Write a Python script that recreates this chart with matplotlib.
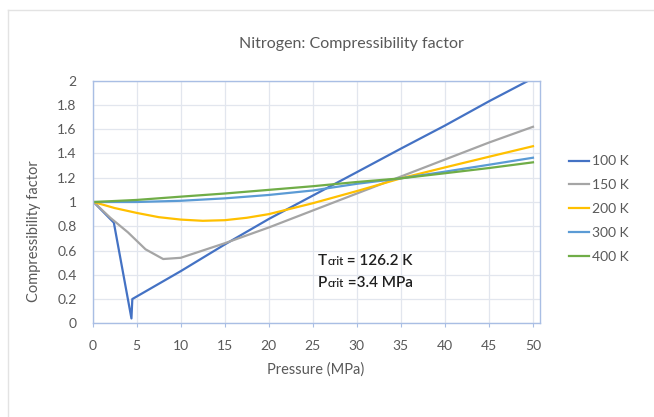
import matplotlib
matplotlib.use("Agg")
import matplotlib.pyplot as plt
from matplotlib.offsetbox import TextArea, HPacker, VPacker, AnchoredOffsetbox
from matplotlib.lines import Line2D

plt.rcParams['font.family'] = ['Lato', 'DejaVu Sans']

# ---- data ----
p_100 = [0.1, 2.4, 4.4, 4.5, 10, 15, 20, 25, 30, 35, 40, 45, 50]
z_100 = [1.0, 0.83, 0.04, 0.2, 0.43, 0.65, 0.86, 1.053, 1.246, 1.44, 1.63, 1.83, 2.02]

p_150 = [0.1, 2, 4, 6, 8, 10, 15, 20, 25, 30, 35, 40, 45, 50]
z_150 = [1.0, 0.87, 0.75, 0.61, 0.53, 0.54, 0.66, 0.79, 0.93, 1.07, 1.21, 1.35, 1.49, 1.62]

p_200 = [0.1, 2.5, 5, 7.5, 10, 12.5, 15, 17.5, 20, 25, 30, 35, 40, 45, 50]
z_200 = [1.0, 0.95, 0.91, 0.875, 0.855, 0.845, 0.85, 0.87, 0.90, 0.99, 1.09, 1.195, 1.285, 1.373, 1.46]

p_300 = [0.1, 5, 10, 15, 20, 25, 30, 35, 40, 45, 50]
z_300 = [1.0, 1.0, 1.01, 1.03, 1.058, 1.095, 1.15, 1.195, 1.25, 1.307, 1.365]

p_400 = [0.1, 5, 10, 15, 20, 25, 30, 35, 40, 45, 50]
z_400 = [1.0, 1.017, 1.044, 1.07, 1.10, 1.13, 1.165, 1.195, 1.237, 1.28, 1.327]

series_labels = ["100 K", "150 K", "200 K", "300 K", "400 K"]
series_colors = ["#4472C4", "#A5A5A5", "#FFC000", "#5B9BD5", "#70AD47"]

x_ticks = [0, 5, 10, 15, 20, 25, 30, 35, 40, 45, 50]
y_ticks = [0, 0.2, 0.4, 0.6, 0.8, 1, 1.2, 1.4, 1.6, 1.8, 2]
y_tick_labels = ["0", "0.2", "0.4", "0.6", "0.8", "1", "1.2", "1.4", "1.6", "1.8", "2"]

# ---- figure ----
W, H = 654, 417
fig = plt.figure(figsize=(W / 100, H / 100), dpi=100)
fig.patch.set_facecolor("white")

# faint chart-area border (left and top)
fig.add_artist(Line2D([8 / W, 8 / W], [0, 1 - 10 / H], transform=fig.transFigure,
                      color="#E3E3E3", lw=1))
fig.add_artist(Line2D([8 / W, 1], [1 - 10 / H, 1 - 10 / H], transform=fig.transFigure,
                      color="#E3E3E3", lw=1))

left, right, top, bottom = 92.7, 540, 80.7, 323.3
ax = fig.add_axes([left / W, 1 - bottom / H, (right - left) / W, (bottom - top) / H])

xs = [p_100, p_150, p_200, p_300, p_400]
zs = [z_100, z_150, z_200, z_300, z_400]
handles = []
for x, z, lab, c in zip(xs, zs, series_labels, series_colors):
    h, = ax.plot(x, z, color=c, lw=1.6, label=lab, solid_joinstyle="round")
    handles.append(h)

ax.set_xlim(0, 50.8)
ax.set_ylim(0, 2)
ax.set_xticks(x_ticks)
ax.set_xticklabels([str(t) for t in x_ticks])
ax.set_yticks(y_ticks)
ax.set_yticklabels(y_tick_labels)
ax.grid(True, color="#E2E6EE", lw=0.9)
ax.set_axisbelow(True)
for s in ax.spines.values():
    s.set_color("#A9BEE4")
    s.set_linewidth(1.0)
ax.tick_params(axis="x", direction="out", length=3, color="#A9BEE4",
               labelsize=10, labelcolor="#595959", pad=9)
ax.tick_params(axis="y", length=0, labelsize=10, labelcolor="#595959", pad=11.5)

fig.text(351 / W, 1 - 44 / H, "Nitrogen: Compressibility factor", ha="center", va="center",
         fontsize=11.5, color="#595959")
fig.text(316 / W, 1 - 370 / H, "Pressure (MPa)", ha="center", va="center",
         fontsize=10.5, color="#595959")
fig.text(34 / W, 1 - 231 / H, "Compressibility factor", ha="center", va="center",
         rotation=90, fontsize=10.5, color="#595959")

fig.legend(handles=handles, labels=series_labels, loc="center left",
           bbox_to_anchor=(569 / W, 1 - 209 / H), bbox_transform=fig.transFigure,
           frameon=False, fontsize=10, handlelength=1.45, handletextpad=0.2,
           labelspacing=0.85, borderpad=0, borderaxespad=0, labelcolor="#595959")

# critical-point annotation
big = dict(size=11, color="#1F1F1F", weight="semibold")
small = dict(size=8, color="#1F1F1F", weight="semibold")
line1 = HPacker(children=[TextArea("T", textprops=big), TextArea("crit", textprops=small),
                          TextArea(" = 126.2 K", textprops=big)],
                align="baseline", pad=0, sep=0)
line2 = HPacker(children=[TextArea("P", textprops=big), TextArea("crit", textprops=small),
                          TextArea(" =3.4 MPa", textprops=big)],
                align="baseline", pad=0, sep=0)
box = VPacker(children=[line1, line2], align="left", pad=0, sep=6)
anch = AnchoredOffsetbox(loc="upper left", child=box, pad=0, borderpad=0, frameon=False,
                         bbox_to_anchor=(318 / W, 1 - 254 / H),
                         bbox_transform=fig.transFigure)
fig.add_artist(anch)

fig.savefig("out.png", dpi=100, facecolor="white")
